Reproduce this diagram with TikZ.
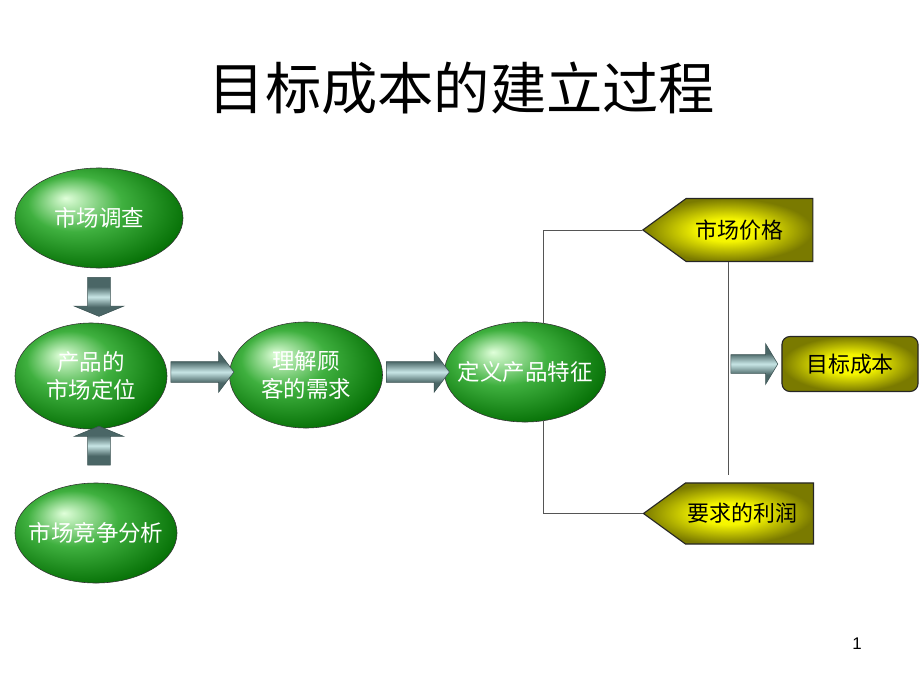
\documentclass[tikz,border=0pt]{standalone}
\usepackage{fontspec}
\setmainfont{Noto Sans CJK SC}
\newfontfamily\numfont{Liberation Sans}
\usetikzlibrary{shapes.geometric,shapes.arrows,shapes.symbols}
\definecolor{elllight}{HTML}{E0FFDA}
\definecolor{ellmid}{HTML}{3FB03F}
\definecolor{elldark}{HTML}{006A00}
\definecolor{arrdark}{HTML}{4A6666}
\definecolor{arrlight}{HTML}{C8E6E6}
\definecolor{olivedark}{HTML}{7A7A00}
\definecolor{linegray}{HTML}{555555}
\pgfdeclareradialshading{ovalshade}{\pgfpoint{-10bp}{10bp}}{color(0bp)=(elllight);
	color(14bp)=(ellmid); color(32bp)=(elldark); color(50bp)=(elldark)}
\pgfdeclareradialshading{goldshade}{\pgfpoint{0bp}{0bp}}{color(0bp)=(yellow);
	color(9bp)=(yellow!92!olivedark); color(25bp)=(olivedark); color(50bp)=(olivedark)}
\pgfdeclareverticalshading{arrshade}{100bp}{color(0bp)=(arrdark); color(37bp)=(arrdark);
	color(50bp)=(arrlight); color(63bp)=(arrdark); color(100bp)=(arrdark)}

\begin{document}
\begin{tikzpicture}[
	x=0.025cm, y=-0.025cm,
	greenoval/.style={ellipse, draw=black!80, inner xsep=-0.6cm, inner ysep=0pt,
		shading=ovalshade, text=white, font=\fontsize{16}{20}\selectfont, align=center},
	fatarrow/.style={single arrow, draw=arrdark!80!black, inner xsep=0pt,
		shading=arrshade, single arrow head indent=0pt},
	goldbox/.style={draw=black!85, thick, shading=goldshade, inner xsep=0pt,
		font=\fontsize{15.6}{18}\selectfont},
	conn/.style={draw=linegray, thin}
	]
\useasboundingbox (0,0) rectangle (920,690);

\node[font=\fontsize{40}{40}\selectfont] at (462,88) (title){目标成本的建立过程};

\node[greenoval, minimum width=4.2cm, minimum height=2.5cm] at (99,218) (survey){市场调查};
\node[greenoval, minimum width=3.8cm, minimum height=2.65cm] at (91,376) (position){产品的\\市场定位};
\node[greenoval, minimum width=4.05cm, minimum height=2.5cm] at (96,533) (compete){市场竞争分析};
\node[greenoval, minimum width=3.825cm, minimum height=2.65cm] at (306,375) (needs){理解顾\\客的需求};
\node[greenoval, minimum width=4.025cm, minimum height=2.5cm] at (525,372) (define){定义产品特征};

\node[fatarrow, rotate=-90, minimum height=0.975cm, inner ysep=0.275cm,
	single arrow head extend=0.3375cm, single arrow tip angle=135] at (99,294.5) (down){};
\node[fatarrow, rotate=90, minimum height=0.975cm, inner ysep=0.275cm,
	single arrow head extend=0.3375cm, single arrow tip angle=135] at (99,448) (up){};
\node[fatarrow, minimum height=1.575cm, inner ysep=0.25cm,
	single arrow head extend=0.25cm, single arrow tip angle=106] at (198.5,372) (right1){};
\node[fatarrow, minimum height=1.575cm, inner ysep=0.25cm,
	single arrow head extend=0.25cm, single arrow tip angle=106] at (414,372) (right2){};

\node[goldbox, signal, signal to=west, signal pointer angle=72,
	minimum width=4.25cm, minimum height=1.575cm] at (749.5,230) (price){市场价格\hspace*{0.5cm}};
\node[goldbox, signal, signal to=west, signal pointer angle=72,
	minimum width=4.25cm, minimum height=1.525cm] at (749.5,513.5) (profit){要求的利润\hspace*{0.35cm}};
\node[goldbox, rounded corners=0.2cm, minimum width=3.4cm, minimum height=1.375cm]
	at (850,364) (target){目标成本};

\coordinate (vend) at (728,475);
\draw[conn] (price.west) -| (define.69);
\draw[conn] (profit.west) -| (define.-69);
\draw[conn] (vend |- price.south) -- (vend);

\node[fatarrow, minimum height=1.175cm, inner ysep=0.225cm,
	single arrow head extend=0.275cm, single arrow tip angle=118] at (751.5,364) (right3){};

\node[font=\numfont\fontsize{12}{12}\selectfont] at (857,644) (page){1};

\end{tikzpicture}
\end{document}
